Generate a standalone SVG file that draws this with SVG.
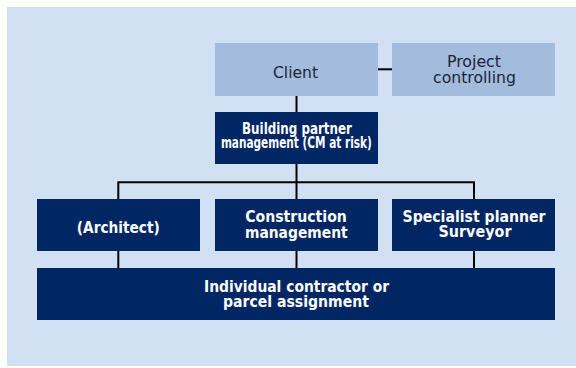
<svg xmlns="http://www.w3.org/2000/svg" width="576" height="368" viewBox="0 0 576 368">
<style>
.bg{fill:#d1e0f2}
.lt{fill:#a3bcdd}
.dk{fill:#002663}
.tl{font-family:"DejaVu Sans Condensed","Liberation Sans",sans-serif;font-size:15.5px;fill:#1b2638;text-anchor:middle}
.td{font-family:"DejaVu Sans Condensed","Liberation Sans",sans-serif;font-size:15px;font-weight:bold;fill:#ffffff;text-anchor:middle}
.ln{stroke:#000000;stroke-width:2;fill:none}
</style>
<rect class="bg" x="7" y="7" width="569" height="359"/>
<g id="connectors">
<line class="ln" x1="378" y1="69.3" x2="392" y2="69.3" stroke-width="2.5"/>
<line class="ln" x1="296.5" y1="96" x2="296.5" y2="112"/>
<line class="ln" x1="296.5" y1="164" x2="296.5" y2="199"/>
<polyline class="ln" points="118.3,199 118.3,182.3 474,182.3 474,199"/>
<line class="ln" x1="118.3" y1="251" x2="118.3" y2="268"/>
<line class="ln" x1="296.5" y1="251" x2="296.5" y2="268"/>
<line class="ln" x1="474" y1="251" x2="474" y2="268"/>
</g>
<g id="client">
<rect class="lt" x="215" y="43" width="163" height="53"/>
<text class="tl" x="295.5" y="78" textLength="45" lengthAdjust="spacingAndGlyphs">Client</text>
</g>
<g id="project-controlling">
<rect class="lt" x="392" y="43" width="163" height="53"/>
<text class="tl" x="474" y="66.5" textLength="54" lengthAdjust="spacingAndGlyphs">Project</text>
<text class="tl" x="474.5" y="82.5" textLength="83" lengthAdjust="spacingAndGlyphs">controlling</text>
</g>
<g id="building-partner">
<rect class="dk" x="215" y="112" width="163" height="52"/>
<text class="td" x="297" y="133.5" textLength="110" lengthAdjust="spacingAndGlyphs">Building partner</text>
<text class="td" x="296.4" y="147.5" textLength="151" lengthAdjust="spacingAndGlyphs">management (CM at risk)</text>
</g>
<g id="architect">
<rect class="dk" x="37" y="199" width="163" height="52"/>
<text class="td" x="118.3" y="233" textLength="83" lengthAdjust="spacingAndGlyphs">(Architect)</text>
</g>
<g id="construction-management">
<rect class="dk" x="215" y="199" width="163" height="52"/>
<text class="td" x="296" y="222" textLength="101.7" lengthAdjust="spacingAndGlyphs">Construction</text>
<text class="td" x="296.3" y="237.5" textLength="102.7" lengthAdjust="spacingAndGlyphs">management</text>
</g>
<g id="specialist-planner">
<rect class="dk" x="392" y="199" width="163" height="52"/>
<text class="td" x="474" y="222" textLength="143" lengthAdjust="spacingAndGlyphs">Specialist planner</text>
<text class="td" x="475" y="237" textLength="73" lengthAdjust="spacingAndGlyphs">Surveyor</text>
</g>
<g id="individual-contractor">
<rect class="dk" x="37" y="268" width="518" height="52"/>
<text class="td" x="296.5" y="292" textLength="185" lengthAdjust="spacingAndGlyphs">Individual contractor or</text>
<text class="td" x="296" y="306.5" textLength="146" lengthAdjust="spacingAndGlyphs">parcel assignment</text>
</g>
</svg>
